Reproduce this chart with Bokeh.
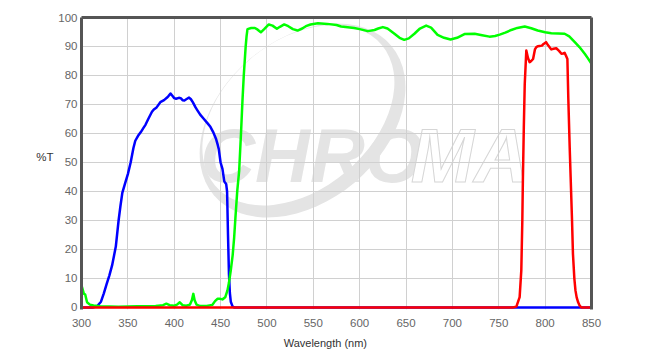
from bokeh.plotting import figure
from bokeh.models import Range1d, LinearAxis, FixedTicker
from bokeh.embed import file_html
from bokeh.resources import INLINE
from bokeh.core.properties import value

# ---------------- data ----------------
x_ticks = [300, 350, 400, 450, 500, 550, 600, 650, 700, 750, 800, 850]
y_ticks = [0, 10, 20, 30, 40, 50, 60, 70, 80, 90, 100]
x_title = "Wavelength (nm)"
y_title = "%T"

blue_wl = [300, 312, 317, 321, 324, 327, 330, 333, 337, 340, 342, 344, 347, 350, 353,
           356, 358, 361, 364, 367, 369, 372, 376, 378, 381, 385, 389, 392, 394, 396,
           398, 400, 402, 405, 407, 409, 411, 413, 416, 418, 420, 423, 425, 428, 432,
           436, 439, 442, 445, 447, 448, 450, 452, 454, 455, 456, 457, 458, 459, 460,
           461, 463, 465, 850]
blue_t = [0, 0, 0.5, 2, 4.8, 8, 11, 14.5, 21, 30, 35, 39.5, 42.8, 46, 50,
          55, 57.5, 59.2, 60.5, 62, 63, 65, 67.5, 68.3, 69, 70.8, 71.5, 72.3, 73, 73.8,
          73, 72.2, 72, 72.3, 72.2, 71.5, 71.4, 71.8, 72.4, 71.8, 70.8, 69, 68, 66.5, 65,
          63.5, 62.3, 60.5, 58.2, 56, 54.7, 50, 47.8, 43.5, 43, 42.6, 40, 25, 11.7, 5,
          2, 0.3, 0, 0]

green_wl = [300, 301, 302.5, 304, 306, 309, 313, 320, 340, 360, 380, 388, 391.5, 395, 400,
            403, 406, 409, 413, 417, 419, 420.6, 422, 424, 428, 435, 441, 444, 446.6, 449,
            452, 455, 457.4, 459, 461, 463, 464.6, 466, 468, 470, 472, 473.6, 475, 477, 478,
            479, 483, 487, 490, 493.4, 497, 502, 506, 510.7, 514, 518.6, 523, 528, 533, 538,
            542, 547, 555, 565, 575, 580, 594, 600, 608.7, 616, 620, 625, 630, 637.5, 643,
            648, 653, 659, 665, 671.7, 677, 684, 691, 698, 705, 713, 724, 732, 740, 746,
            751, 757, 763.5, 770, 778, 785, 792, 800, 806.7, 814, 821, 826, 832, 837, 842.7,
            846, 850]
green_t = [7.6, 6.5, 4.8, 4.5, 1.8, 1.0, 0.7, 0.4, 0.3, 0.4, 0.5, 0.8, 1.3, 0.8, 0.6,
           1.0, 1.8, 0.8, 0.6, 1.0, 2.5, 4.7, 2.5, 1.0, 0.5, 0.5, 0.9, 2.2, 3.0, 3.0,
           2.8, 3.5, 5.9, 8.5, 12.8, 18, 24, 31, 40.3, 47, 60, 71.4, 80, 89.8, 93.5,
           96, 96.4, 96.4, 95.8, 94.9, 96, 97.6, 97.2, 96.1, 96.8, 97.6, 97.0, 96.0, 95.5, 96.2,
           97.0, 97.6, 98, 97.8, 97.4, 96.9, 96.4, 96.0, 95.3, 95.7, 96.2, 96.7, 96.2, 94.4, 93.0,
           92.3, 92.8, 94.4, 96.2, 97.2, 96.5, 94.0, 93.0, 92.4, 93.0, 94.3, 94.4, 93.9, 93.4, 93.6,
           94.1, 94.8, 95.7, 96.4, 96.9, 96.3, 95.5, 94.9, 94.6, 94.5, 94.4, 93.5, 91.5, 89.8, 87.5,
           86.0, 84.0]

red_wl = [300, 765, 769, 772.5, 774.3, 775.4, 776, 777, 778, 779.7, 781.5, 783.3, 785, 787, 789,
          790.5, 792, 794, 796.6, 798, 801, 803, 806.7, 809, 812, 815, 817.6, 819.3, 821, 822.5,
          824, 825, 826.5, 827.5, 829, 830, 831.5, 832.7, 834, 835.6, 837, 839, 850]
red_t = [0, 0, 0.3, 3.6, 12.8, 30, 44, 62, 77, 88.6, 86, 84.6, 85, 85.7, 89,
         89.8, 90.1, 90.2, 90.3, 90.8, 91.5, 90.5, 89, 89.2, 89.4, 88.5, 87.5, 87.6, 87.8, 86.8,
         85.7, 72, 55, 45, 30, 18.5, 10, 5.9, 3.5, 1.8, 0.8, 0, 0]

# ---------------- figure ----------------
p = figure(frame_width=510, frame_height=292,
           min_border_left=81, min_border_right=61, min_border_top=17, min_border_bottom=45,
           x_range=Range1d(300, 850), y_range=Range1d(-0.69, 100),
           output_backend="svg", toolbar_location=None)
p.outline_line_color = None
p.background_fill_color = "white"
p.border_fill_color = "white"

label_font = "Liberation Sans"
p.xaxis.ticker = FixedTicker(ticks=x_ticks)
p.yaxis.ticker = FixedTicker(ticks=y_ticks)
for ax in (p.xaxis[0], p.yaxis[0]):
    ax.major_tick_line_color = None
    ax.minor_tick_line_color = None
    ax.major_label_text_font = label_font
    ax.major_label_text_font_size = "11.5px"
    ax.major_label_text_color = "#666666"
p.xaxis.axis_line_color = None
p.xaxis.major_label_standoff = 3
p.yaxis.axis_line_color = "#555555"
p.yaxis.axis_line_width = 3
p.yaxis.major_label_standoff = -2

for loc in ("right", "above"):
    ax = LinearAxis(ticker=FixedTicker(ticks=[]), axis_line_color="#555555", axis_line_width=3,
                    major_tick_line_color=None, minor_tick_line_color=None)
    p.add_layout(ax, loc)

# axis titles placed as single-tick outer axes
ytitle_ax = LinearAxis(ticker=FixedTicker(ticks=[52]), major_label_overrides={52: y_title},
                       axis_line_color=None, major_tick_line_color=None, minor_tick_line_color=None,
                       major_label_text_font=label_font, major_label_text_font_size="11.5px",
                       major_label_text_color="#333333", major_label_standoff=-4)
p.add_layout(ytitle_ax, "left")
xtitle_ax = LinearAxis(ticker=FixedTicker(ticks=[563]), major_label_overrides={563: x_title},
                       axis_line_color=None, major_tick_line_color=None, minor_tick_line_color=None,
                       major_label_text_font=label_font, major_label_text_font_size="11px",
                       major_label_text_color="#333333", major_label_standoff=1)
p.add_layout(xtitle_ax, "below")

p.grid.grid_line_color = "#d0d0d0"
p.grid.grid_line_width = 1

# ---------------- watermark (style only) ----------------
wm_col = "#e4e4e4"
cx, cy = 538.4, 64.5
p.ellipse(x=[cx], y=[cy], width=[232], height=[162], angle=0.70,
          width_units="screen", height_units="screen",
          fill_color=wm_col, line_color=None, level="image")
p.ellipse(x=[cx - 4.5], y=[cy + 1.8], width=[218], height=[148], angle=0.70,
          width_units="screen", height_units="screen",
          fill_color="white", line_color=None, level="image")
p.text(x=[428], y=[52.4], text=["CHRO"], text_font=value("Liberation Sans"),
       text_font_style="bold italic", text_font_size="76px", text_color=wm_col,
       text_align="left", text_baseline="alphabetic", level="image")
p.text(x=[655], y=[52.4], text=["MA"], text_font=value("Liberation Sans"),
       text_font_style="bold italic", text_font_size="76px", text_color="white",
       text_outline_color="#d6d6d6",
       text_align="left", text_baseline="alphabetic", level="image")

# ---------------- curves ----------------
p.line(blue_wl, blue_t, line_color="#0000ff", line_width=2.5, line_join="round")
p.line(green_wl, green_t, line_color="#00ff00", line_width=2.5, line_join="round")
p.line(red_wl, red_t, line_color="#ff0000", line_width=2.5, line_join="round")

open("out.html", "w").write(file_html(p, INLINE))
